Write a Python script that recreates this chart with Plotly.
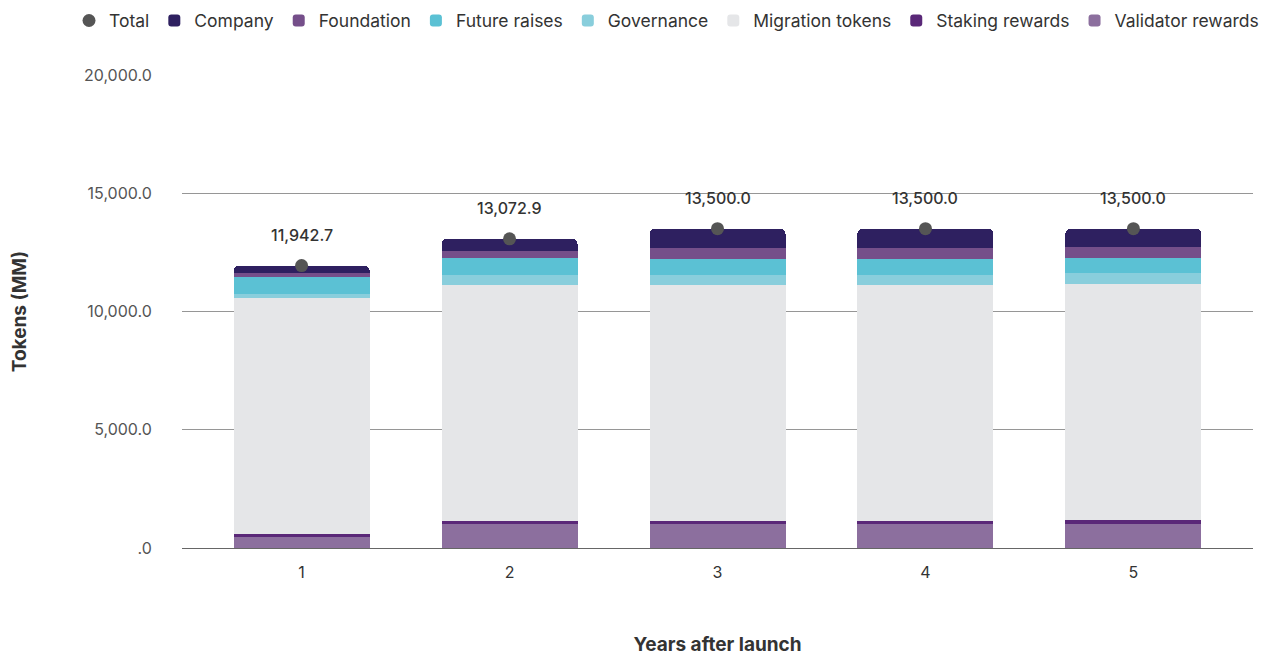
import plotly.graph_objects as go

# Token supply by category, in millions of tokens
years = [1, 2, 3, 4, 5]
validator_rewards = [500, 1000, 1000, 1000, 1000]
staking_rewards = [80, 125, 125, 125, 170]
migration_tokens = [10000, 10000, 10000, 10000, 10000]
governance = [170, 420, 420, 420, 460]
future_raises = [700, 720, 660, 660, 630]
foundation = [170, 280, 460, 460, 450]
company = [322.7, 527.9, 835, 835, 790]
totals = [11942.7, 13072.9, 13500.0, 13500.0, 13500.0]

y_tick_vals = [0, 5000, 10000, 15000, 20000]
y_tick_text = [".0", "5,000.0", "10,000.0", "15,000.0", "20,000.0"]

FONT = "Inter, Roboto, sans-serif"

# (name, values, colour, legend rank) from the bottom of the stack upwards
stack = [
    ("Validator rewards", validator_rewards, "#8c6f9e", 8),
    ("Staking rewards", staking_rewards, "#5a2878", 7),
    ("Migration tokens", migration_tokens, "#e5e6e8", 6),
    ("Governance", governance, "#89cedc", 5),
    ("Future raises", future_raises, "#5bc1d4", 4),
    ("Foundation", foundation, "#754f8a", 3),
    ("Company", company, "#2e2060", 2),
]

fig = go.Figure()
for name, vals, color, rank in stack:
    fig.add_trace(go.Bar(
        x=years, y=vals, name=name, marker_color=color,
        marker_line_width=0, legendrank=rank, width=0.654,
    ))

fig.add_trace(go.Scatter(
    x=years, y=totals, name="Total", mode="markers",
    marker=dict(color="#555555", size=13, line=dict(width=0)),
    legendrank=1,
))

for x, t in zip(years, totals):
    fig.add_annotation(
        x=x, y=t, text=f"{t:,.1f}", showarrow=False, yshift=31,
        font=dict(family=FONT, size=16, color="#333333", weight=500),
    )

fig.update_layout(
    width=1266, height=657,
    barmode="stack", barcornerradius=5,
    plot_bgcolor="white", paper_bgcolor="white",
    margin=dict(l=182, r=13, t=75, b=109, autoexpand=False),
    font=dict(family=FONT, size=16, color="#333333"),
    showlegend=True,
    legend=dict(
        orientation="h", x=-0.1055, xanchor="left",
        y=1.153, yanchor="top", traceorder="normal",
        font=dict(family=FONT, size=17.5, color="#333333"),
        itemwidth=30,
    ),
    xaxis=dict(
        type="linear", range=[0.425, 5.575], tickvals=years,
        ticktext=[str(y) for y in years],
        showgrid=False, showline=True, linecolor="#666666", linewidth=1,
        zeroline=False,
        ticks="outside", ticklen=10, tickcolor="rgba(0,0,0,0)",
        tickfont=dict(family=FONT, size=16, color="#333333"),
        title=dict(text="<b>Years after launch</b>", standoff=56,
                   font=dict(family=FONT, size=19, color="#333333")),
    ),
    yaxis=dict(
        range=[0, 20000], tickvals=y_tick_vals, ticktext=y_tick_text,
        showgrid=True, gridcolor="#969696", gridwidth=1,
        zeroline=True, zerolinecolor="#969696", zerolinewidth=1,
        showline=False,
        ticks="outside", ticklen=26, tickcolor="rgba(0,0,0,0)",
        tickfont=dict(family=FONT, size=16, color="#555555"),
        title=dict(text="<b>Tokens (MM)</b>", standoff=52,
                   font=dict(family=FONT, size=19, color="#333333")),
    ),
)

fig.write_html("out.html")
